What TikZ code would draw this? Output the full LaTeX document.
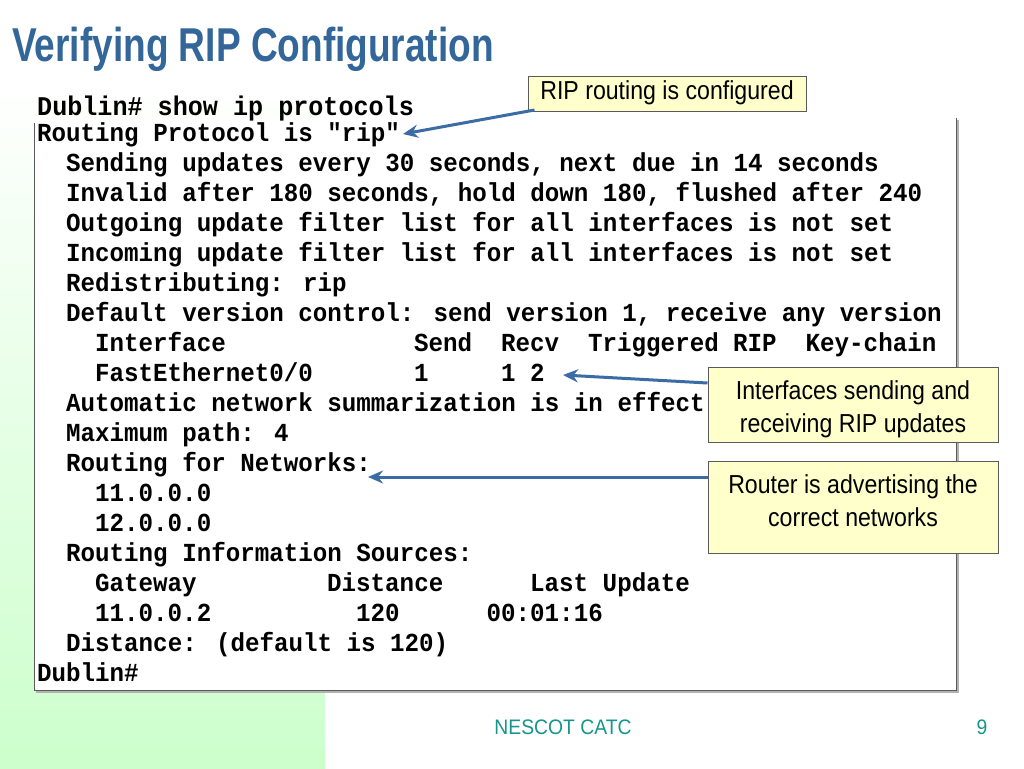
\documentclass[tikz,border=0pt]{standalone}
\usepackage{fontspec}
\setmainfont{Liberation Sans}
\newfontfamily\titlefont[FakeStretch=0.78]{Liberation Sans}
\newfontfamily\callfont[FakeStretch=0.89]{Liberation Sans}
\newfontfamily\footfont[FakeStretch=0.92]{Liberation Sans}
\newfontfamily\termfont[FakeStretch=0.93]{Liberation Mono}
\usetikzlibrary{arrows.meta}
\definecolor{titleblue}{RGB}{51,102,153}
\definecolor{arrowblue}{RGB}{60,108,165}
\definecolor{calloutfill}{RGB}{255,255,204}
\definecolor{bandgreen}{RGB}{204,255,204}
\definecolor{footteal}{RGB}{20,150,140}
\definecolor{boxline}{RGB}{90,90,90}
\tikzset{
  term/.style={anchor=base west, inner sep=0pt, font=\termfont\bfseries\fontsize{26}{30}\selectfont},
  callout/.style={draw=boxline, fill=calloutfill, line width=1pt, inner sep=0pt},
  calltext/.style={anchor=base, inner sep=0pt, font=\callfont\fontsize{26}{33}\selectfont},
  pointer/.style={draw=arrowblue, line width=3pt, -{Stealth[length=15pt,width=13pt]}},
  foot/.style={anchor=base, inner sep=0pt, text=footteal, font=\footfont\fontsize{21}{24}\selectfont}
}
\newcommand{\cx}[1]{37+14.5*#1}
\newcommand{\ry}[1]{141+30*#1}
\begin{document}
\begin{tikzpicture}[x=1pt,y=-1pt]
\useasboundingbox (0,0) rectangle (1024,768);
\fill[white] (0,0) rectangle (1024,768);
% green band
\shade[top color=white, bottom color=bandgreen] (0,80) rectangle (325,768);
% terminal window
\fill[white] (34,118) rectangle (956,690);
\draw[gray!60, line width=2pt] (36,691.5) -- (957.5,691.5) -- (957.5,120);
\draw[boxline, line width=1pt] (34,123) -- (34,690) -- (956,690) -- (956,118);

% title
\node[anchor=base west, inner sep=0pt, text=titleblue,
  font=\titlefont\bfseries\fontsize{47.5}{50}\selectfont] (title) at (12,62) {Verifying RIP Configuration};

% command
\node[term, font=\termfont\bfseries\fontsize{27}{30}\selectfont] (cmd) at (37,115) {Dublin\# show ip protocols};

% terminal output
\node[term] (l0)  at ({\cx{0}},{\ry{0}}) {Routing Protocol is "rip"};
\node[term] (l1)  at ({\cx{2}},{\ry{1}}) {Sending updates every 30 seconds, next due in 14 seconds};
\node[term] (l2)  at ({\cx{2}},{\ry{2}}) {Invalid after 180 seconds, hold down 180, flushed after 240};
\node[term] (l3)  at ({\cx{2}},{\ry{3}}) {Outgoing update filter list for all interfaces is not set};
\node[term] (l4)  at ({\cx{2}},{\ry{4}}) {Incoming update filter list for all interfaces is not set};
\node[term] (l5)  at ({\cx{2}},{\ry{5}}) {Redistributing: rip};
\node[term] (l6)  at ({\cx{2}},{\ry{6}}) {Default version control: send version 1, receive any version};
\node[term] (l7a) at ({\cx{4}},{\ry{7}}) {Interface};
\node[term] (l7b) at ({\cx{26}},{\ry{7}}) {Send};
\node[term] (l7c) at ({\cx{32}},{\ry{7}}) {Recv};
\node[term] (l7d) at ({\cx{38}},{\ry{7}}) {Triggered};
\node[term] (l7e) at ({\cx{48}},{\ry{7}}) {RIP};
\node[term] (l7f) at ({\cx{53}},{\ry{7}}) {Key-chain};
\node[term] (l8a) at ({\cx{4}},{\ry{8}}) {FastEthernet0/0};
\node[term] (l8b) at ({\cx{26}},{\ry{8}}) {1};
\node[term] (l8c) at ({\cx{32}},{\ry{8}}) {1};
\node[term] (l8d) at ({\cx{34}},{\ry{8}}) {2};
\node[term] (l9)  at ({\cx{2}},{\ry{9}}) {Automatic network summarization is in effect};
\node[term] (l10) at ({\cx{2}},{\ry{10}}) {Maximum path: 4};
\node[term] (l11) at ({\cx{2}},{\ry{11}}) {Routing for Networks:};
\node[term] (l12) at ({\cx{4}},{\ry{12}}) {11.0.0.0};
\node[term] (l13) at ({\cx{4}},{\ry{13}}) {12.0.0.0};
\node[term] (l14) at ({\cx{2}},{\ry{14}}) {Routing Information Sources:};
\node[term] (l15a) at ({\cx{4}},{\ry{15}}) {Gateway};
\node[term] (l15b) at ({\cx{20}},{\ry{15}}) {Distance};
\node[term] (l15c) at ({\cx{34}},{\ry{15}}) {Last Update};
\node[term] (l16a) at ({\cx{4}},{\ry{16}}) {11.0.0.2};
\node[term] (l16b) at ({\cx{22}},{\ry{16}}) {120};
\node[term] (l16c) at ({\cx{31}},{\ry{16}}) {00:01:16};
\node[term] (l17) at ({\cx{2}},{\ry{17}}) {Distance: (default is 120)};
\node[term] (l18) at ({\cx{0}},{\ry{18}}) {Dublin\#};

% callouts
\node[callout, minimum width=278pt, minimum height=35pt] (box1) at (667,94) {};
\node[callout, minimum width=290pt, minimum height=75pt] (box2) at (853,404.5) {};
\node[callout, minimum width=290pt, minimum height=92pt] (box3) at (853,507) {};
\node[calltext] (t1)  at (667,99) {RIP routing is configured};
\node[calltext] (t2a) at (853,399) {Interfaces sending and};
\node[calltext] (t2b) at (853,432.5) {receiving RIP updates};
\node[calltext] (t3a) at (853,493.3) {Router is advertising the};
\node[calltext] (t3b) at (853,526.7) {correct networks};

% arrow tips
\coordinate (tip1) at (403,134);
\coordinate (tip2) at (563,375);
\coordinate (tip3) at (368,477);

\draw[pointer] ([xshift=7pt,yshift=2pt]box1.south west) -- (tip1);
\draw[pointer] ([yshift=21.5pt]box2.west) -- (tip2);
\draw[pointer] ([yshift=30pt]box3.west) -- (tip3);

% footer
\node[foot] (footer) at (563,734) {NESCOT CATC};
\node[foot] (page) at (982,734) {9};
\end{tikzpicture}
\end{document}
